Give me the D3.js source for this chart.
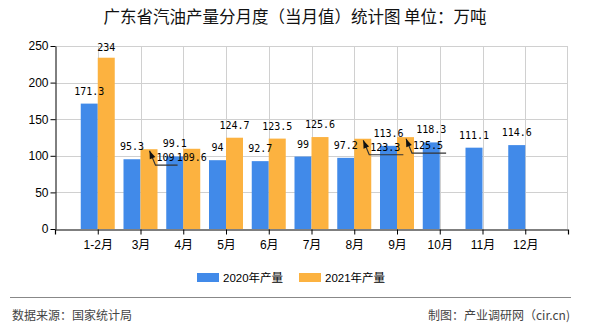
<!DOCTYPE html>
<html><head><meta charset="utf-8">
<script src="https://cdn.jsdelivr.net/npm/d3@7"></script>
<style>
html,body{margin:0;padding:0;background:#fff;}
svg{display:block;}
</style></head>
<body>
<script>
const categories = ["1-2月","3月","4月","5月","6月","7月","8月","9月","10月","11月","12月"];
const values2020 = [171.3,95.3,99.1,94,92.7,99,97.2,113.6,118.3,111.1,114.6];
const values2021 = [234,109,109.6,124.7,123.5,125.6,123.3,125.5];
const seriesNames = ["2020年产量","2021年产量"];
const yTicks = [0,50,100,150,200,250];
const titleText = "广东省汽油产量分月度（当月值）统计图 单位：万吨";
const sourceText = "数据来源：国家统计局";
const creditText = "制图：产业调研网（cir.cn)";

const W = 590, H = 330;
const colors = ["#418AE9", "#FCB240"];
const cjk = "'Liberation Sans','Noto Sans CJK SC',sans-serif";
const mono = "'DejaVu Sans Mono','Liberation Mono',monospace";

const svg = d3.select("body").append("svg").attr("width", W).attr("height", H);

const x = d3.scalePoint().domain(categories).range([55, 568]).padding(1);
const y = d3.scaleLinear().domain([0, 250]).range([229, 46]);
const bw = 17;

// title
svg.append("text").attr("x", 295).attr("y", 17).attr("dy", "0.35em")
  .attr("text-anchor", "middle").attr("font-family", "'Noto Sans CJK SC',sans-serif")
  .attr("font-size", 16.5).attr("fill", "#111").text(titleText);

// gridlines
const g = svg.append("g");
g.selectAll(".hg").data(yTicks.filter(d => d > 0)).enter().append("line")
  .attr("x1", 55).attr("x2", 568)
  .attr("y1", d => Math.round(y(d)) + 0.5).attr("y2", d => Math.round(y(d)) + 0.5)
  .attr("stroke", "#d0d0d0").attr("stroke-width", 1);
g.selectAll(".vg").data(categories).enter().append("line")
  .attr("x1", d => Math.round(x(d)) + 0.5).attr("x2", d => Math.round(x(d)) + 0.5)
  .attr("y1", 46).attr("y2", 229)
  .attr("stroke", "#d0d0d0").attr("stroke-width", 1);
g.append("line").attr("x1", 567.5).attr("x2", 567.5).attr("y1", 46).attr("y2", 229)
  .attr("stroke", "#d0d0d0");

// bars
const series = [values2020, values2021];
series.forEach((vals, si) => {
  svg.append("g").selectAll("rect").data(vals).enter().append("rect")
    .attr("x", (d, i) => x(categories[i]) - (si === 0 ? bw : 0))
    .attr("y", d => y(d))
    .attr("width", bw)
    .attr("height", d => y(0) - y(d))
    .attr("fill", colors[si]);
});

// axes
const yAxis = svg.append("g").attr("transform", "translate(55.5,0)")
  .call(d3.axisLeft(y).tickValues(yTicks).tickSize(5).tickPadding(2).tickSizeOuter(0));
yAxis.select(".domain").attr("stroke", "#000");
yAxis.selectAll(".tick line").attr("stroke", "#000");
yAxis.selectAll("text").attr("font-family", "'Liberation Sans',sans-serif").attr("font-size", 12).attr("fill", "#000");

const xAxis = svg.append("g").attr("transform", "translate(0,229.5)")
  .call(d3.axisBottom(x).tickSize(5).tickPadding(6).tickSizeOuter(5));
xAxis.select(".domain").attr("stroke", "#000").attr("stroke-width", 1.2);
xAxis.selectAll(".tick line").attr("stroke", "#000");
xAxis.selectAll("text").attr("font-family", cjk).attr("font-size", 12).attr("fill", "#000");

// value labels
const lab = svg.append("g").attr("font-family", mono).attr("font-size", 10).attr("fill", "#000");
const leaderSet = new Set(["1-1", "1-6", "1-7"]);
const insideSet = new Set(["1-2"]);
series.forEach((vals, si) => {
  vals.forEach((v, i) => {
    const key = si + "-" + i;
    const cx = x(categories[i]) + (si === 0 ? -bw / 2 : bw / 2);
    const top = y(v);
    if (leaderSet.has(key)) {
      const tx = cx + 7.5, ty = top + 8.5;
      const t = lab.append("text").attr("x", tx).attr("y", ty).attr("dy", "0.35em").text(v);
      const tw = t.node().getComputedTextLength();
      const tip = [cx + 0.5, top + 1.5], elbow = [cx + 6.5, top + 16];
      lab.append("polyline")
        .attr("points", [tip, elbow, [tx + tw + 3, top + 16]].map(p => p.join(",")).join(" "))
        .attr("fill", "none").attr("stroke", "#333").attr("stroke-width", 1.2);
      const ang = Math.atan2(tip[1] - elbow[1], tip[0] - elbow[0]);
      const L = 8, Wd = 3;
      const bx = tip[0] - L * Math.cos(ang), by = tip[1] - L * Math.sin(ang);
      const px = -Math.sin(ang) * Wd, py = Math.cos(ang) * Wd;
      lab.append("path")
        .attr("d", `M${tip[0]},${tip[1]}L${bx + px},${by + py}L${bx - px},${by - py}Z`)
        .attr("fill", "#111");
    } else {
      const ty = insideSet.has(key) ? top + 9 : Math.max(top - 12.5, 47.5);
      lab.append("text").attr("x", cx).attr("y", ty).attr("dy", "0.35em")
        .attr("text-anchor", "middle").text(v);
    }
  });
});

// legend
const legendX = [197, 299];
seriesNames.forEach((n, i) => {
  svg.append("rect").attr("x", legendX[i]).attr("y", 273).attr("width", 22).attr("height", 9)
    .attr("fill", colors[i]);
  svg.append("text").attr("x", legendX[i] + 26).attr("y", 277.5).attr("dy", "0.35em")
    .attr("font-family", cjk).attr("font-size", 11.5).attr("fill", "#000").text(n);
});

// footer
svg.append("line").attr("x1", 10).attr("x2", 571).attr("y1", 297.5).attr("y2", 297.5)
  .attr("stroke", "#888").attr("stroke-width", 1);
svg.append("text").attr("x", 12).attr("y", 316).attr("dy", "0.35em")
  .attr("font-family", "'Noto Sans CJK SC',sans-serif").attr("font-size", 12).attr("fill", "#444")
  .text(sourceText);
svg.append("text").attr("x", 570).attr("y", 316).attr("dy", "0.35em").attr("text-anchor", "end")
  .attr("font-family", "'Noto Sans CJK SC',sans-serif").attr("font-size", 12).attr("fill", "#444")
  .text(creditText);
</script>
</body></html>
